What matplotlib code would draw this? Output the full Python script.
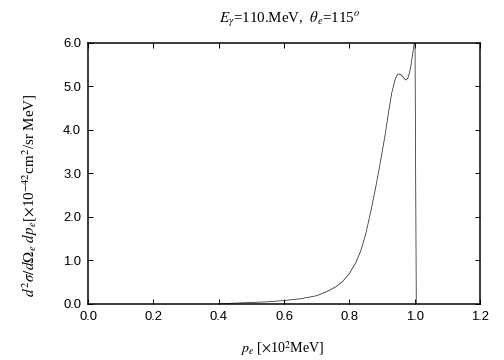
import matplotlib
matplotlib.use("Agg")
import matplotlib.pyplot as plt

# data
pe = [0.40, 0.45, 0.50, 0.55, 0.60, 0.65, 0.70, 0.73, 0.76, 0.78, 0.80,
      0.82, 0.835, 0.85, 0.865, 0.88, 0.895, 0.91, 0.92, 0.93, 0.94,
      0.947, 0.953, 0.960, 0.967, 0.973, 0.979, 0.984, 0.988, 0.993,
      0.998, 1.001, 1.003, 1.005]
xs = [0.005, 0.02, 0.035, 0.05, 0.08, 0.12, 0.19, 0.28, 0.40, 0.52, 0.70,
      0.95, 1.22, 1.60, 2.10, 2.65, 3.25, 3.90, 4.40, 4.85, 5.15,
      5.26, 5.28, 5.25, 5.18, 5.14, 5.18, 5.30, 5.45, 5.70,
      5.95, 6.10, 3.0, 0.0]

xticks = [0.0, 0.2, 0.4, 0.6, 0.8, 1.0, 1.2]
yticks = [0.0, 1.0, 2.0, 3.0, 4.0, 5.0, 6.0]

plt.rcParams['mathtext.fontset'] = 'stix'
plt.rcParams['font.family'] = ['Liberation Sans', 'DejaVu Sans']

fig = plt.figure(figsize=(7, 5), dpi=72)
ax = fig.add_axes([88/504, 56/360, 392/504, 261.5/360])
ax.plot(pe, xs, color='#333333', lw=0.8)
ax.set_xlim(0, 1.2)
ax.set_ylim(0, 6)
ax.set_xticks(xticks)
ax.set_xticklabels([f"{t:.1f}" for t in xticks])
ax.set_yticks(yticks)
ax.set_yticklabels([f"{t:.1f}" for t in yticks])
ax.tick_params(direction='in', top=True, right=True, length=5, width=1,
               labelsize=13, pad=7)
for s in ax.spines.values():
    s.set_linewidth(1.5)

serif = ['Liberation Serif', 'DejaVu Serif']
fig.text(290/504, 1 - 20/360, r'$E_\gamma$=110.MeV,  $\theta_e$=115$^o$',
         fontsize=15, family=serif, ha='center', va='center')
ax.set_xlabel(r'$p_e$ [$\times$10$^2$MeV]', fontsize=14, family=serif,
              va='center')
ax.xaxis.set_label_coords((282 - 88) / 392, (304 - 349) / 261.5)
ax.set_ylabel(r'$d^2\sigma/d\Omega_e\ dp_e$[$\times$10$^{-42}$cm$^2$/sr MeV]',
              fontsize=15, family=serif, va='center')
ax.yaxis.set_label_coords((30 - 88) / 392, (304 - 195) / 261.5)

fig.savefig('out.png', dpi=72)
